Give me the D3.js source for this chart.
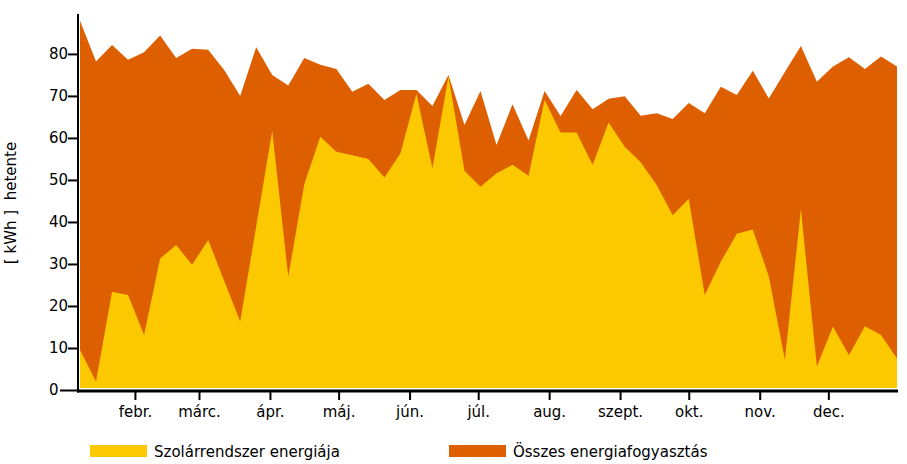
<!DOCTYPE html>
<html>
<head>
<meta charset="utf-8">
<script src="https://cdn.jsdelivr.net/npm/d3@7"></script>
<style>
  html, body { margin: 0; padding: 0; background: #fff; }
  svg { display: block; font-family: "DejaVu Sans", Verdana, sans-serif; }
</style>
</head>
<body>
<svg id="chart" width="907" height="464"></svg>
<script>
// ---- data ----
const seriesNames = ["Szolárrendszer energiája", "Összes energiafogyasztás"];
const firstWeek = "2023-01-08";
const lastWeek = "2023-12-31";
const solar = [9.5, 2.0, 23.4, 22.6, 13.1, 31.3, 34.5, 29.8, 35.7, 26.0,
  16.3, 39.0, 61.7, 27.0, 49.0, 60.3, 56.7, 55.9, 55.0, 50.6,
  56.3, 70.5, 52.8, 74.6, 52.2, 48.4, 51.6, 53.6, 51.0, 69.0,
  61.3, 61.3, 53.6, 63.7, 57.9, 54.2, 48.8, 41.6, 45.5, 22.6,
  30.5, 37.2, 38.2, 27.0, 7.2, 43.0, 5.6, 15.1, 8.3, 15.2,
  13.1, 7.5];
const total = [87.9, 78.2, 82.1, 78.6, 80.4, 84.4, 79.0, 81.2, 81.0, 76.2,
  70.0, 81.6, 75.0, 72.5, 79.0, 77.4, 76.4, 71.0, 72.9, 69.0,
  71.4, 71.4, 67.6, 75.0, 63.1, 71.2, 58.3, 68.0, 59.4, 71.2,
  65.2, 71.4, 66.8, 69.3, 69.9, 65.3, 65.9, 64.5, 68.3, 65.9,
  72.2, 70.2, 76.0, 69.4, 75.7, 81.9, 73.4, 77.0, 79.2, 76.4,
  79.4, 77.0];
const monthTickDates = ["2023-02-01","2023-03-01","2023-04-01","2023-05-01","2023-06-01",
  "2023-07-01","2023-08-01","2023-09-01","2023-10-01","2023-11-01","2023-12-01"];
const monthLabels = ["febr.","márc.","ápr.","máj.","jún.","júl.","aug.","szept.","okt.","nov.","dec."];
const yTicks = [0, 10, 20, 30, 40, 50, 60, 70, 80];
const yTitle = "[ kWh ]  hetente";
const colors = ["#FCC800", "#DD5F00"];

// ---- setup ----
const parse = d3.timeParse("%Y-%m-%d");
const weeks = d3.timeWeek.range(parse(firstWeek), d3.timeDay.offset(parse(lastWeek), 1));
const rows = weeks.map((d, i) => ({ date: d, solar: solar[i], total: total[i] }));

const svg = d3.select("#chart");
const x = d3.scaleTime().domain([parse(firstWeek), parse(lastWeek)]).range([80, 897]);
const y = d3.scaleLinear().domain([0, 89.5]).range([390, 14]);

svg.append("defs").append("clipPath").attr("id", "plotclip")
  .append("rect").attr("x", 80).attr("y", 0).attr("width", 818).attr("height", 388);

const g = svg.append("g").attr("clip-path", "url(#plotclip)");
const areaTotal = d3.area().x(d => x(d.date)).y0(y(0)).y1(d => y(d.total));
const areaSolar = d3.area().x(d => x(d.date)).y0(y(0)).y1(d => y(d.solar));
g.append("path").datum(rows).attr("d", areaTotal).attr("fill", colors[1]);
g.append("path").datum(rows).attr("d", areaSolar).attr("fill", colors[0]);

// ---- y axis ----
const yAxis = svg.append("g").attr("transform", "translate(78,0)")
  .call(d3.axisLeft(y).tickValues(yTicks).tickSize(10).tickPadding(2).tickFormat(d3.format("d")));
yAxis.select(".domain").remove();
yAxis.selectAll(".tick line").attr("stroke", "#000").attr("stroke-width", 2)
  .attr("x2", d => d === 0 ? -18 : -10);
yAxis.selectAll(".tick text").attr("fill", "#000").attr("font-size", 15)
  .attr("font-family", "DejaVu Sans, Verdana, sans-serif")
  .attr("text-anchor", "start").attr("x", -29);
svg.append("line").attr("x1", 78).attr("x2", 78).attr("y1", 14).attr("y2", 392.5)
  .attr("stroke", "#000").attr("stroke-width", 2);

// ---- x axis ----
const xAxis = svg.append("g").attr("transform", "translate(0,391)")
  .call(d3.axisBottom(x).tickValues(monthTickDates.map(parse)).tickSize(9).tickPadding(6)
    .tickFormat((d, i) => monthLabels[i]));
xAxis.select(".domain").remove();
xAxis.selectAll(".tick line").attr("stroke", "#000").attr("stroke-width", 2);
xAxis.selectAll(".tick text").attr("fill", "#000").attr("font-size", 15)
  .attr("font-family", "DejaVu Sans, Verdana, sans-serif");
svg.append("line").attr("x1", 77).attr("x2", 898).attr("y1", 391).attr("y2", 391)
  .attr("stroke", "#000").attr("stroke-width", 3);

// ---- y title ----
svg.append("text")
  .attr("transform", "translate(16,203) rotate(-90)")
  .attr("text-anchor", "middle")
  .attr("font-size", 15)
  .attr("fill", "#000")
  .style("white-space", "pre")
  .attr("xml:space", "preserve")
  .text(yTitle);

// ---- legend ----
const legendX = [90, 449];
seriesNames.forEach((name, i) => {
  svg.append("rect").attr("x", legendX[i]).attr("y", 445).attr("width", 57).attr("height", 12)
    .attr("fill", colors[i]);
  svg.append("text").attr("x", legendX[i] + 64).attr("y", 457)
    .attr("font-size", 15).attr("fill", "#000").text(name);
});
</script>
</body>
</html>
